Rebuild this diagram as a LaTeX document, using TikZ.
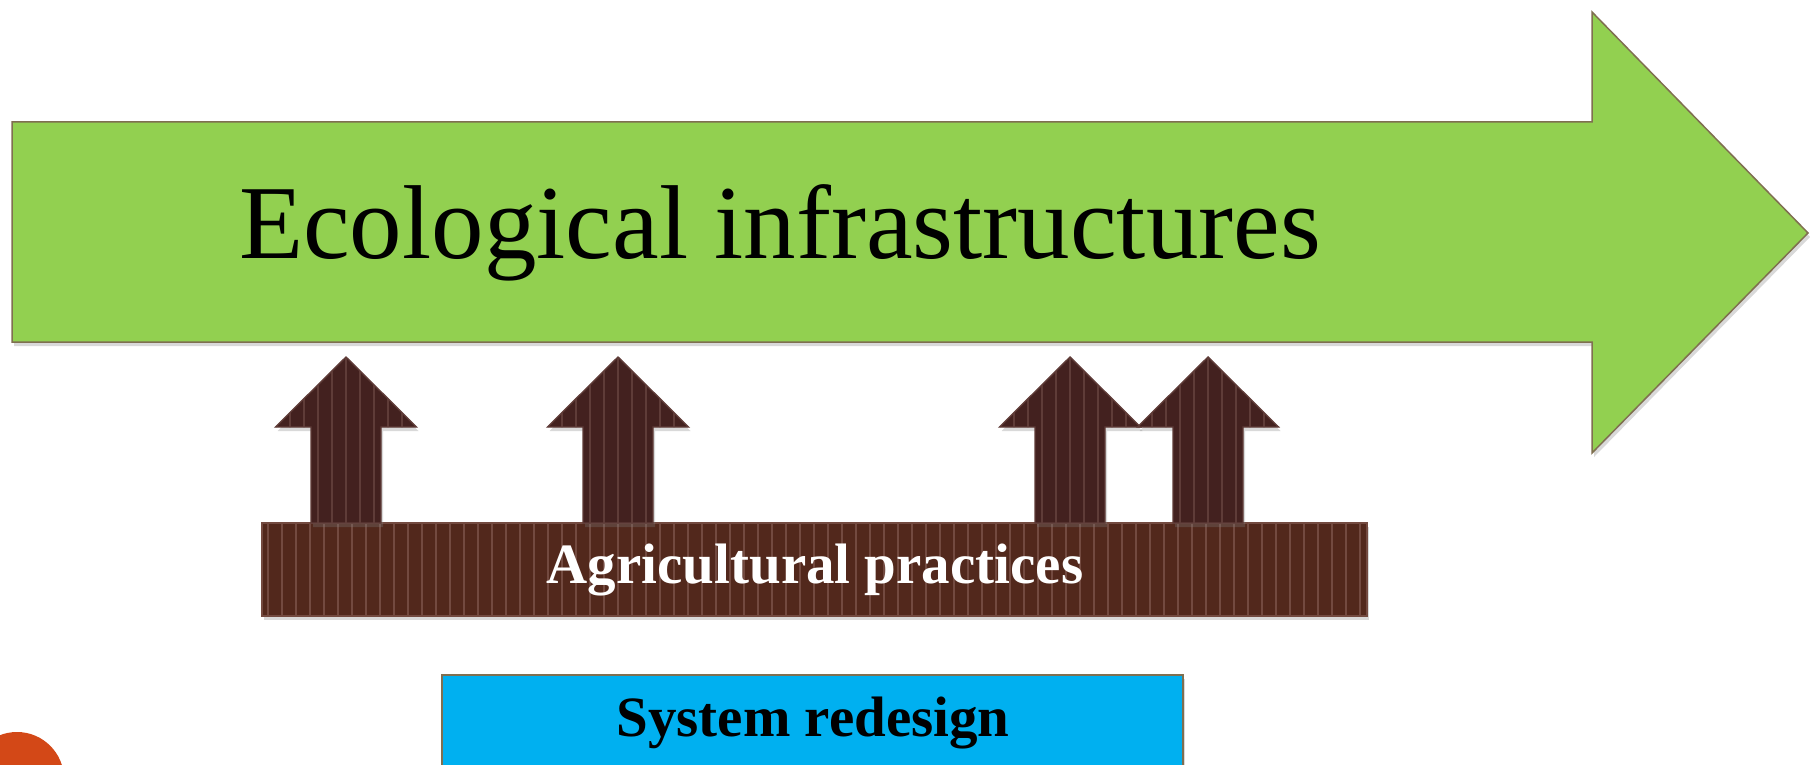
\documentclass[tikz,border=0pt]{standalone}
\usepackage{fontspec}
\setmainfont{Liberation Serif}
\usetikzlibrary{shadows}
\definecolor{ecogreen}{HTML}{92D050}
\definecolor{ecoedge}{HTML}{7F6F50}
\definecolor{barbrown}{HTML}{52281C}
\definecolor{barstripe}{HTML}{734A40}
\definecolor{arrbrown}{HTML}{43211F}
\definecolor{arrstripe}{HTML}{5F3C38}
\definecolor{sysblue}{HTML}{00B0F0}
\definecolor{dotorange}{HTML}{D34817}
\tikzset{
  shadowed/.style={drop shadow={opacity=0.3, shadow xshift=2pt, shadow yshift=-4pt}},
  bigarrow/.style={fill=ecogreen, draw=ecoedge, line width=1.5pt, line join=miter, shadowed},
  smallarrow/.style={fill=arrbrown, shadowed},
  smalledge/.style={draw=arrstripe, line width=1.4pt, line join=miter},
  barbox/.style={fill=barbrown, shadowed},
  baredge/.style={draw=barstripe, line width=1.4pt},
  stripe/.style={line width=2.2pt},
  sysbox/.style={fill=sysblue, draw=ecoedge, line width=1.5pt, shadowed},
  bigtext/.style={anchor=base, inner sep=0pt, font=\fontsize{105}{110}\selectfont},
  bartext/.style={anchor=base, inner sep=0pt, text=white, font=\fontsize{57}{60}\selectfont\bfseries},
  systext/.style={anchor=base, inner sep=0pt, text=black, font=\fontsize{57}{60}\selectfont\bfseries}
}
\newcommand{\uparrowpath}[1]{(#1-35,523) -- (#1-35,427) -- (#1-70.5,427) -- (#1,357) -- (#1+70.5,427) -- (#1+35,427) -- (#1+35,523) -- cycle}
\begin{document}
\begin{tikzpicture}[x=1pt,y=-1pt]
\useasboundingbox (0,0) rectangle (1810,765);
\begin{scope}
\clip (0,0) rectangle (1810,765);
% orange dot
\fill[dotorange] (17,779) circle (47);
% big green arrow
\path[bigarrow] (12,122) -- (1592,122) -- (1592,12) -- (1808,233) -- (1592,453) -- (1592,342) -- (12,342) -- cycle;
\node[bigtext] (eco) at (780,258) {Ecological infrastructures};
% bar
\path[barbox] (262,523) rectangle (1367,616);
\begin{scope}
\clip (262,523) rectangle (1367,616);
\foreach \i in {0,...,79} {\draw[stripe, barstripe] (262+6+\i*14,523) -- (262+6+\i*14,616);}
\end{scope}
\draw[baredge] (262,523) rectangle (1367,616);
% small arrows
\foreach \c in {346,618,1070,1208} {
  \path[smallarrow] \uparrowpath{\c};
  \begin{scope}
    \clip \uparrowpath{\c};
    \foreach \k in {-5,...,5} {\draw[stripe, arrstripe] (\c+\k*14,350) -- (\c+\k*14,525);}
  \end{scope}
  \draw[smalledge] \uparrowpath{\c};
}
\node[bartext] (agri) at (815,583) {Agricultural practices};
% system redesign box
\path[sysbox] (442,675) rectangle (1183,800);
\node[systext] (sys) at (813,736) {System redesign};
\end{scope}
\end{tikzpicture}
\end{document}
